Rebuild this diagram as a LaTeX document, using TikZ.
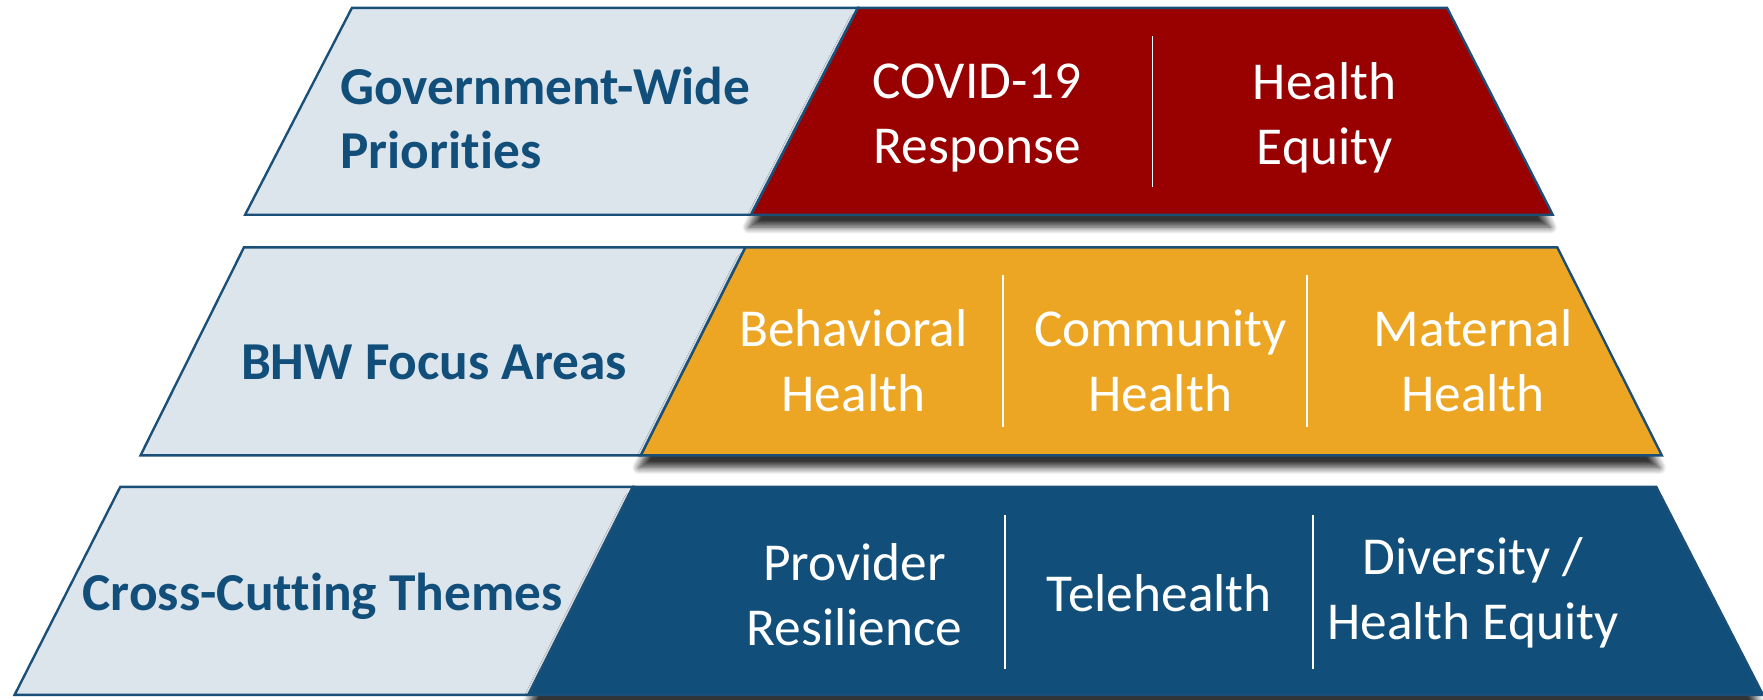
\documentclass[tikz,border=0pt]{standalone}
\usepackage{fontspec}
\setmainfont[Ligatures=NoCommon]{Carlito}
\usepackage{tikz}
\usetikzlibrary{positioning}
\usetikzlibrary{shadows.blur}

\definecolor{tierBlue}{HTML}{114F7A}
\definecolor{tierEdge}{HTML}{1A4F78}
\definecolor{tierGrey}{HTML}{DCE4EC}
\definecolor{tierRed}{HTML}{990000}
\definecolor{tierGold}{HTML}{ECA624}

\tikzset{
	greyband/.style={fill=tierGrey, draw=tierEdge, line width=0.6pt},
	colorband/.style={draw=tierEdge, line width=0.6pt,
		blur shadow={shadow xshift=-0.02cm, shadow yshift=-0.11cm, shadow blur steps=8, shadow blur radius=0.06cm, shadow opacity=80}},
	tierlabel/.style={inner sep=0pt, font=\fontsize{13.5}{16.4}\selectfont\bfseries, text=tierBlue, align=left},
	celllabel/.style={inner sep=0pt, font=\fontsize{13.5}{16.4}\selectfont, text=white, align=center},
	divider/.style={draw=white, line width=0.5pt},
}

\begin{document}
\begin{tikzpicture}

	% ------------------------------------------------
	% Keep the page at the size of the graphic
	\useasboundingbox (0,0) rectangle (15.68cm,6.22cm);

	% ------------------------------------------------
	% Relevant coordinates
	% Top tier
	\coordinate (GovBL) at (2.18cm,4.31cm);
	\path (GovBL)  +(0.95cm,1.84cm)  coordinate (GovTL);
	\path (GovBL)  +(4.50cm,0)       coordinate (PrioBL);
	\path (PrioBL) +(0.95cm,1.84cm)  coordinate (PrioTL);
	\path (PrioBL) +(7.13cm,0)       coordinate (PrioBR);
	\path (PrioBR) +(-0.94cm,1.84cm) coordinate (PrioTR);

	% Middle tier
	\coordinate (FocBL) at (1.25cm,2.17cm);
	\path (FocBL)  +(0.92cm,1.85cm)  coordinate (FocTL);
	\path (FocBL)  +(4.45cm,0)       coordinate (AreaBL);
	\path (AreaBL) +(0.93cm,1.85cm)  coordinate (AreaTL);
	\path (AreaBL) +(9.08cm,0)       coordinate (AreaBR);
	\path (AreaBR) +(-0.93cm,1.85cm) coordinate (AreaTR);

	% Bottom tier
	\coordinate (CutBL) at (0.13cm,0.04cm);
	\path (CutBL)  +(0.94cm,1.85cm)  coordinate (CutTL);
	\path (CutBL)  +(4.57cm,0)       coordinate (ThmBL);
	\path (ThmBL)  +(0.93cm,1.85cm)  coordinate (ThmTL);
	\path (ThmBL)  +(10.98cm,0)      coordinate (ThmBR);
	\path (ThmBR)  +(-0.95cm,1.85cm) coordinate (ThmTR);

	% Divider ends
	\coordinate (DivPrioTop) at (10.25cm,5.90cm);
	\path (DivPrioTop) +(0,-1.34cm) coordinate (DivPrioBot);
	\coordinate (DivAreaATop) at (8.92cm,3.77cm);
	\path (DivAreaATop) +(0,-1.35cm) coordinate (DivAreaABot);
	\coordinate (DivAreaBTop) at (11.62cm,3.77cm);
	\path (DivAreaBTop) +(0,-1.35cm) coordinate (DivAreaBBot);
	\coordinate (DivThmATop) at (8.94cm,1.64cm);
	\path (DivThmATop) +(0,-1.37cm) coordinate (DivThmABot);
	\coordinate (DivThmBTop) at (11.68cm,1.64cm);
	\path (DivThmBTop) +(0,-1.37cm) coordinate (DivThmBBot);

	%%%%%%%%%%%%%%%%%%%%%%%%%%%%%%%%%%%%%%%%%
	% Bands
	\draw[greyband] (GovBL) -- (GovTL) -- (PrioTL) -- (PrioBL) -- cycle;
	\draw[colorband, fill=tierRed] (PrioBL) -- (PrioTL) -- (PrioTR) -- (PrioBR) -- cycle;

	\draw[greyband] (FocBL) -- (FocTL) -- (AreaTL) -- (AreaBL) -- cycle;
	\draw[colorband, fill=tierGold] (AreaBL) -- (AreaTL) -- (AreaTR) -- (AreaBR) -- cycle;

	\draw[greyband] (CutBL) -- (CutTL) -- (ThmTL) -- (ThmBL) -- cycle;
	\draw[colorband, fill=tierBlue] (ThmBL) -- (ThmTL) -- (ThmTR) -- (ThmBR) -- cycle;

	% Dividers
	\draw[divider] (DivPrioTop)  -- (DivPrioBot);
	\draw[divider] (DivAreaATop) -- (DivAreaABot);
	\draw[divider] (DivAreaBTop) -- (DivAreaBBot);
	\draw[divider] (DivThmATop)  -- (DivThmABot);
	\draw[divider] (DivThmBTop)  -- (DivThmBBot);

	%%%%%%%%%%%%%%%%%%%%%%%%%%%%%%%%%%%%%%%%%
	% Labels
	\node[tierlabel, anchor=west] (GovLabel) at (3.02cm,5.17cm) {Government-Wide\\Priorities};
	\node[celllabel] (Covid)  at (8.69cm,5.17cm)  {COVID-19\\Response};
	\node[celllabel] (Equity) at (11.78cm,5.17cm) {Health\\Equity};

	\node[tierlabel] (FocLabel) at (3.86cm,3.00cm) {BHW Focus Areas};
	\node[celllabel] (Behav)  at (7.59cm,3.01cm)  {Behavioral\\Health};
	\node[celllabel] (Commun) at (10.32cm,3.01cm) {Community\\Health};
	\node[celllabel] (Matern) at (13.10cm,3.01cm) {Maternal\\Health};

	\node[tierlabel] (CutLabel) at (2.87cm,0.92cm) {Cross-Cutting Themes};
	\node[celllabel] (Provider) at (7.60cm,0.93cm)  {Provider\\Resilience};
	\node[celllabel] (Tele)     at (10.31cm,0.94cm) {Telehealth};
	\node[celllabel] (Divers)   at (13.10cm,0.95cm) {Diversity /\\Health Equity};

\end{tikzpicture}
\end{document}
